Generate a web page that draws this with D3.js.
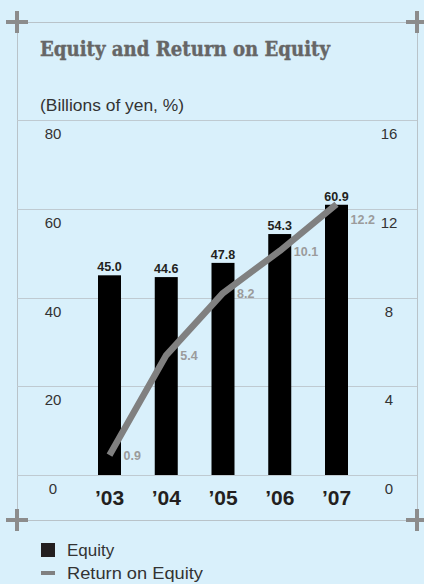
<!DOCTYPE html>
<html lang="en">
<head>
<meta charset="UTF-8">
<title>Equity and Return on Equity</title>
<script src="https://d3js.org/d3.v7.min.js"></script>
<style>
  body { margin: 0; background: #d9f0fb; }
  svg { display: block; }
</style>
</head>
<body>
<svg id="chart" width="424" height="584"></svg>
<script>
// Data
const years = ["’03", "’04", "’05", "’06", "’07"];
const equity = [45.0, 44.6, 47.8, 54.3, 60.9];
const roe = [0.9, 5.4, 8.2, 10.1, 12.2];
const leftTicks = [0, 20, 40, 60, 80];
const rightTicks = [0, 4, 8, 12, 16];

const svg = d3.select("#chart");
const sans = "'Liberation Sans', Arial, sans-serif";

svg.append("rect").attr("width", 424).attr("height", 584).attr("fill", "#d9f0fb");

// Scales
const x = d3.scalePoint().domain(years).range([109.5, 336.5]);
const y = d3.scaleLinear().domain([0, 80]).range([475, 120]);
const y2 = d3.scaleLinear().domain([0, 16]).range([475, 120]);
const barW = 23;

// Frame
const frame = svg.append("g").attr("stroke", "#b9c3c9").attr("stroke-width", 1);
frame.append("line").attr("x1", 17).attr("x2", 417).attr("y1", 22.5).attr("y2", 22.5);
frame.append("line").attr("x1", 17).attr("x2", 417).attr("y1", 520.5).attr("y2", 520.5);
frame.append("line").attr("x1", 17.5).attr("x2", 17.5).attr("y1", 22).attr("y2", 520);
frame.append("line").attr("x1", 417.5).attr("x2", 417.5).attr("y1", 22).attr("y2", 520);

// Gridlines
svg.append("g").selectAll("line").data(leftTicks).join("line")
  .attr("x1", 17).attr("x2", 417)
  .attr("y1", d => Math.round(y(d)) + 0.5).attr("y2", d => Math.round(y(d)) + 0.5)
  .attr("stroke", "#bfcad1").attr("stroke-width", 1.2);

// Corner crosses
const corners = [[17, 22], [417, 22], [17, 520], [417, 520]];
const cross = svg.append("g").attr("fill", "#8c8c8c");
corners.forEach(([cx, cy]) => {
  cross.append("rect").attr("x", cx - 11).attr("y", cy - 2).attr("width", 22).attr("height", 4);
  cross.append("rect").attr("x", cx - 2).attr("y", cy - 11).attr("width", 4).attr("height", 22);
});

// Title
svg.append("text").attr("x", 40).attr("y", 56)
  .attr("font-family", "'DejaVu Serif', serif").attr("font-weight", "bold")
  .attr("font-size", 20).attr("fill", "#666")
  .attr("stroke", "#666").attr("stroke-width", 0.4)
  .attr("textLength", 290).attr("lengthAdjust", "spacingAndGlyphs")
  .text("Equity and Return on Equity");

svg.append("text").attr("x", 40).attr("y", 111)
  .attr("font-family", sans).attr("font-size", 16).attr("fill", "#333")
  .attr("textLength", 144).attr("lengthAdjust", "spacingAndGlyphs")
  .text("(Billions of yen, %)");

// Axis tick labels
svg.append("g").selectAll("text").data(leftTicks).join("text")
  .attr("x", 53).attr("y", d => y(d) + 19)
  .attr("text-anchor", "middle").attr("font-family", sans).attr("font-size", 15)
  .attr("fill", "#333").text(d => d);

svg.append("g").selectAll("text").data(rightTicks).join("text")
  .attr("x", 389).attr("y", d => y2(d) + 19)
  .attr("text-anchor", "middle").attr("font-family", sans).attr("font-size", 15)
  .attr("fill", "#333").text(d => d);

// Bars
svg.append("g").selectAll("rect").data(equity).join("rect")
  .attr("x", (d, i) => x(years[i]) - barW / 2)
  .attr("y", d => y(d))
  .attr("width", barW)
  .attr("height", d => y(0) - y(d))
  .attr("fill", "#000");

// Bar value labels
svg.append("g").selectAll("text").data(equity).join("text")
  .attr("x", (d, i) => x(years[i]))
  .attr("y", d => y(d) - 4)
  .attr("text-anchor", "middle").attr("font-family", sans).attr("font-weight", "bold")
  .attr("font-size", 12.5).attr("fill", "#231f20")
  .text(d => d.toFixed(1));

// ROE line
const line = d3.line().x((d, i) => x(years[i])).y(d => y2(d));
svg.append("path").datum(roe)
  .attr("d", line).attr("fill", "none")
  .attr("stroke", "#808080").attr("stroke-width", 6.5)
  .attr("stroke-linejoin", "round");

// ROE labels
svg.append("g").selectAll("text").data(roe).join("text")
  .attr("x", (d, i) => x(years[i]) + 14)
  .attr("y", (d, i) => y2(d) + (i === roe.length - 1 ? 20 : 5))
  .attr("font-family", sans).attr("font-weight", "bold")
  .attr("font-size", 12.5).attr("fill", "#9b9b9b")
  .text(d => d.toFixed(1));

// X labels
svg.append("g").selectAll("text").data(years).join("text")
  .attr("x", d => x(d)).attr("y", 505)
  .attr("text-anchor", "middle").attr("font-family", sans).attr("font-weight", "bold")
  .attr("font-size", 21).attr("fill", "#231f20")
  .text(d => d);

// Legend
svg.append("rect").attr("x", 41).attr("y", 543).attr("width", 14).attr("height", 14).attr("fill", "#231f20");
svg.append("text").attr("x", 67).attr("y", 556)
  .attr("font-family", sans).attr("font-size", 17).attr("fill", "#333").text("Equity");
svg.append("rect").attr("x", 41).attr("y", 571).attr("width", 14).attr("height", 4).attr("fill", "#808080");
svg.append("text").attr("x", 67).attr("y", 579)
  .attr("font-family", sans).attr("font-size", 17).attr("fill", "#333")
  .attr("textLength", 136).attr("lengthAdjust", "spacingAndGlyphs")
  .text("Return on Equity");
</script>
</body>
</html>
